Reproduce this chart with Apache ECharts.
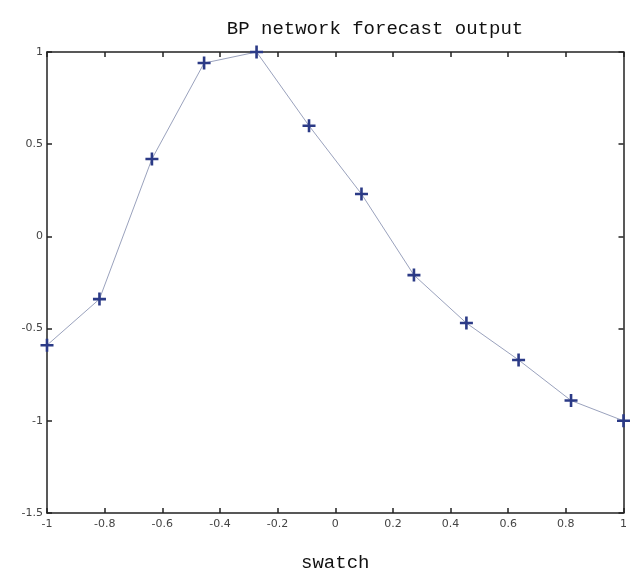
<!DOCTYPE html>
<html>
<head>
<meta charset="utf-8">
<script src="https://cdn.jsdelivr.net/npm/echarts@6/dist/echarts.min.js"></script>
<style>
  html, body { margin: 0; padding: 0; background: #fff; }
  #chart { width: 630px; height: 577px; }
</style>
</head>
<body>
<div id="chart"></div>
<script>
// 输入样本（横轴）
const xValues = [-1, -0.818, -0.636, -0.455, -0.273, -0.091, 0.091, 0.273, 0.455, 0.636, 0.818, 1]
// 网络预测输出
const yValues = [-0.59, -0.34, 0.42, 0.94, 1.0, 0.60, 0.23, -0.21, -0.47, -0.67, -0.89, -1.0]

const titleText = 'BP network forecast output'
const xAxisName = 'swatch'

// 十字标记
const plusSymbol = 'path://M4,0 L6,0 L6,4 L10,4 L10,6 L6,6 L6,10 L4,10 L4,6 L0,6 L0,4 L4,4 Z'

const chart = echarts.init(document.getElementById('chart'))

// 坐标轴不要贴在0上，围成一个框
const axisLine = { show: true, onZero: false, lineStyle: { color: '#222', width: 1.5 } }
const tickStyle = { show: true, inside: true, length: 5, lineStyle: { color: '#222', width: 1.5 } }
const labelStyle = { color: '#444', fontFamily: 'DejaVu Sans', fontSize: 11 }

chart.setOption({
	animation: false,
	backgroundColor: '#fff',
	title: {
		text: titleText,
		left: 370,
		top: 14,
		textAlign: 'center',
		textStyle: { fontFamily: 'Liberation Mono', fontSize: 19, fontWeight: 'normal', color: '#111' }
	},
	grid: { left: 47, right: 3, top: 52, bottom: 60 },
	xAxis: [
		{
			type: 'value', min: -1, max: 1, interval: 0.2,
			position: 'bottom',
			name: xAxisName, nameLocation: 'middle', nameGap: 40,
			nameTextStyle: { fontFamily: 'Liberation Mono', fontSize: 19, color: '#111' },
			axisLine, axisTick: tickStyle,
			axisLabel: { ...labelStyle, margin: 6 },
			splitLine: { show: false }
		},
		{
			type: 'value', min: -1, max: 1, interval: 0.2,
			position: 'top',
			axisLine, axisTick: tickStyle,
			axisLabel: { show: false },
			splitLine: { show: false }
		}
	],
	yAxis: [
		{
			type: 'value', min: -1.5, max: 1, interval: 0.5,
			position: 'left',
			axisLine, axisTick: tickStyle,
			axisLabel: { ...labelStyle, margin: 4 },
			splitLine: { show: false }
		},
		{
			type: 'value', min: -1.5, max: 1, interval: 0.5,
			position: 'right',
			axisLine, axisTick: tickStyle,
			axisLabel: { show: false },
			splitLine: { show: false }
		}
	],
	series: [
		{
			type: 'line',
			data: xValues.map((x, i) => [x, yValues[i]]),
			symbol: plusSymbol,
			symbolSize: 13,
			showAllSymbol: true,
			clip: false,
			lineStyle: { color: '#9aa2bd', width: 1 },
			itemStyle: { color: '#2b3a86' }
		}
	]
})
</script>
</body>
</html>
